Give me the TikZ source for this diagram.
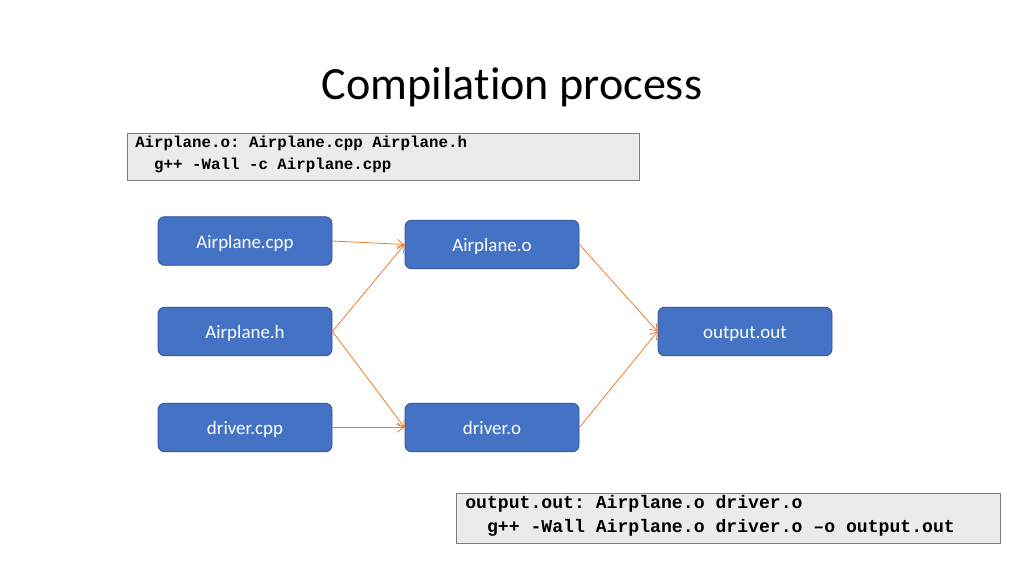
\documentclass[tikz,border=0pt]{standalone}
\usepackage{fontspec}
\setmainfont{Carlito}[Ligatures=NoCommon]
\newfontfamily\codefont{Liberation Mono}
\usetikzlibrary{arrows.meta}
\definecolor{boxblue}{HTML}{4472C4}
\definecolor{boxedge}{HTML}{2F528F}
\definecolor{arroworange}{HTML}{ED7D31}
\definecolor{codebg}{HTML}{EBEBEB}
\definecolor{codeedge}{HTML}{7F7F7F}
\tikzset{
  filebox/.style={draw=boxedge, fill=boxblue, rounded corners=5pt, line width=0.6pt,
    minimum width=130.5pt, minimum height=36.5pt, text=white, inner sep=0pt,
    text height=2.4ex, text depth=0.2ex,
    font=\fontsize{14.2}{16}\selectfont},
  codebox/.style={draw=codeedge, fill=codebg, line width=0.6pt},
  codetext/.style={anchor=west, inner sep=0pt, align=left, font=\codefont\bfseries},
  dep/.style={draw=arroworange, line width=0.6pt, -{Straight Barb[length=5pt,width=7pt]}}
}
\begin{document}
\frenchspacing
\begin{tikzpicture}[x=0.75pt,y=-0.75pt]
\useasboundingbox (0,0) rectangle (1024,576);
\node[font=\fontsize{34.6}{40}\selectfont] (title) at (512,87) {Compilation process};
% code box 1
\draw[codebox] (127,133) rectangle (639,180);
\node[codetext, font=\codefont\bfseries\fontsize{11.85}{17}\selectfont] (code1) at (135,154.5)
  {Airplane.o: Airplane.cpp Airplane.h\\\ \ g++ -Wall -c Airplane.cpp};
% code box 2
\draw[codebox] (456,493) rectangle (1000,543);
\node[codetext, font=\codefont\bfseries\fontsize{13.6}{18}\selectfont] (code2) at (465,516)
  {output.out: Airplane.o driver.o\\\ \ g++ -Wall Airplane.o driver.o –o output.out};
% file nodes
\node[filebox] (cpp) at (245,241) {Airplane.cpp};
\node[filebox] (h) at (245,331.5) {Airplane.h};
\node[filebox] (dcpp) at (245,427.5) {driver.cpp};
\node[filebox] (ao) at (492,244.5) {Airplane.o};
\node[filebox] (do) at (492,427.5) {driver.o};
\node[filebox] (out) at (745,331.5) {output.out};
% dependencies
\draw[dep] (cpp.east) -- (ao.west);
\draw[dep] (h.east) -- (ao.west);
\draw[dep] (h.east) -- (do.west);
\draw[dep] (dcpp.east) -- (do.west);
\draw[dep] (ao.east) -- (out.west);
\draw[dep] (do.east) -- (out.west);
\end{tikzpicture}
\end{document}
